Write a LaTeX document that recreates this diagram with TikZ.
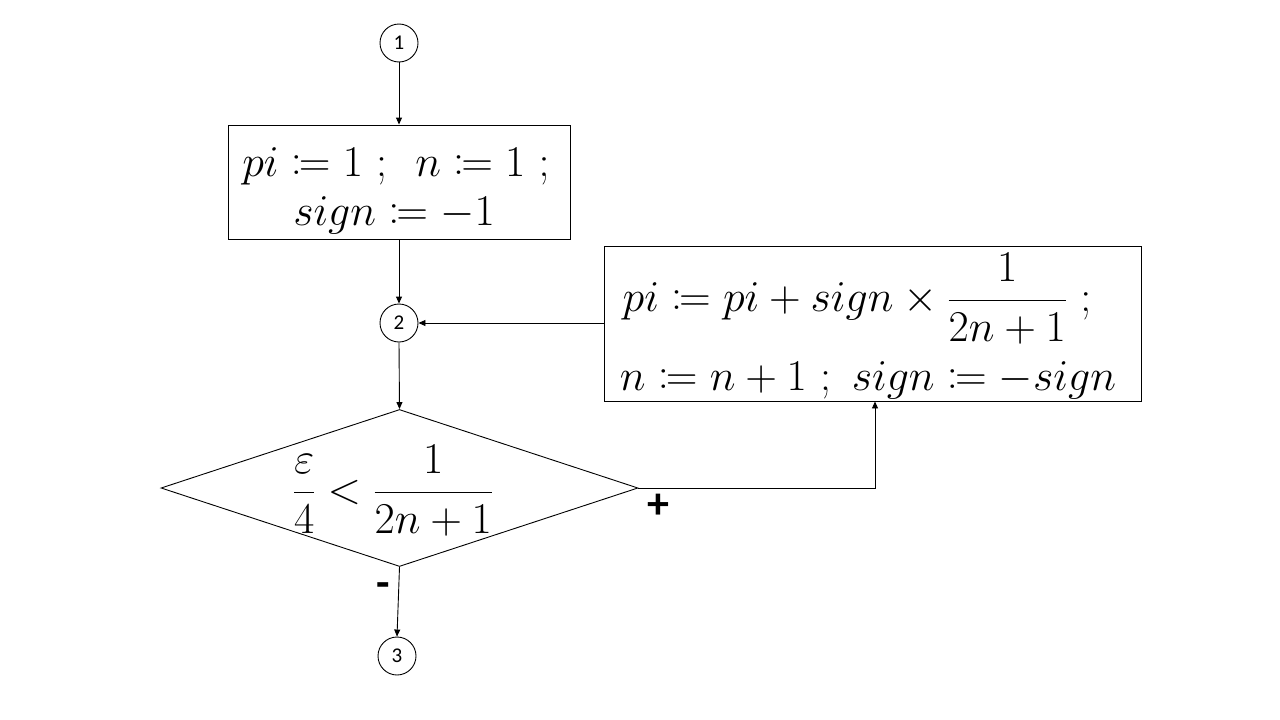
\RequirePackage{fix-cm}
\documentclass[tikz,border=0pt]{standalone}
\usepackage{amsmath,mathtools}
\usepackage{fontspec}
\newfontfamily\calib{Carlito}
\usetikzlibrary{arrows.meta,shapes.geometric}
\tikzset{
  conn/.style={draw=black, line width=0.9pt},
  arr/.style={conn, -{Triangle[length=7pt,width=6pt]}},
  numc/.style={circle, draw, line width=0.9pt, minimum size=38pt, inner sep=0pt, font=\calib\fontsize{21}{24}\selectfont},
  procbox/.style={rectangle, draw, line width=0.9pt, inner sep=0pt, align=center},
  mtext/.style={font=\fontsize{44}{52}\selectfont, inner sep=0pt, anchor=base},
  sgn/.style={font=\calib\bfseries\fontsize{44}{48}\selectfont, inner sep=0pt}
}
\begin{document}
\begin{tikzpicture}[x=1pt,y=-1pt]
\useasboundingbox (0,0) rectangle (1280,720);
% circles
\node[numc] (c1) at (399,43) {1};
\node[numc] (c2) at (399,323) {2};
\node[numc] (c3) at (397,656) {3};
% box 1
\node[procbox, minimum width=342pt, minimum height=114pt] (b1) at (399,182) {};
\node[mtext] (t1a) at (396,176) {$pi \coloneqq 1\ ;\ \, n \coloneqq 1\ ;$};
\node[mtext] (t1b) at (394,225) {$sign \coloneqq -1$};
% box 2
\node[procbox, minimum width=537pt, minimum height=155pt] (b2) at (872.5,323.5) {};
\node[mtext] (t2a) at (857,311) {$pi \coloneqq pi + sign \times \dfrac{1}{2n+1}\ ;$};
\node[mtext] (t2b) at (868,390) {$n \coloneqq n+1\ ;\ sign \coloneqq -sign$};
% diamond
\node[diamond, draw, line width=0.9pt, minimum width=477pt, minimum height=157pt, inner sep=0pt] (d) at (399.5,488) {};
\node[mtext] (dt) at (393,503) {$\dfrac{\varepsilon}{4} < \dfrac{1}{2n+1}$};
% labels
\node[sgn] (plus) at (658,506) {+};
\node[sgn] (minus) at (383,590) {-};
% connectors
\draw[arr] (c1.south) -- (b1.north);
\draw[arr] (b1.south) -- (c2.north);
\draw[arr] (b2.west |- c2.east) -- (c2.east);
\draw[arr] (c2.south) -- (d.north);
\coordinate (corner) at (875,488);
\draw[arr] (d.east) -- (corner) -- (corner |- b2.south);
\draw[arr] (d.south) -- (c3.north);
\end{tikzpicture}
\end{document}
